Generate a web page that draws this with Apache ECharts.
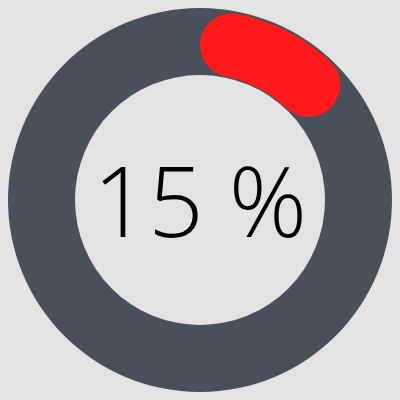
<!DOCTYPE html>
<html><head><meta charset="utf-8">
<script src="https://cdn.jsdelivr.net/npm/echarts@6/dist/echarts.min.js"></script>
<style>html,body{margin:0;padding:0;background:#e3e3e3}#c{width:400px;height:400px}</style>
</head><body><div id="c"></div>
<script>
var values = [15];
var labelSuffix = ' %';
var chart = echarts.init(document.getElementById('c'));
var hidden = {axisTick:{show:false},splitLine:{show:false},axisLabel:{show:false},pointer:{show:false},title:{show:false}};
chart.setOption({
  backgroundColor:'#e3e3e3',
  animation:false,
  series:[
    Object.assign({
      type:'gauge', center:['50%','50%'], radius:192, startAngle:90, endAngle:-270, min:0, max:100,
      axisLine:{lineStyle:{width:67,color:[[1,'#4a5059']]}},
      progress:{show:false}, detail:{show:false},
      data:[{value:values[0]}]
    }, hidden),
    Object.assign({
      type:'gauge', center:['50%','50%'], radius:190, startAngle:78.3, endAngle:-281.7, min:0, max:171,
      axisLine:{show:false},
      progress:{show:true,width:64,roundCap:true,itemStyle:{color:'#ff1a1a'}},
      detail:{show:true,offsetCenter:[0,9],formatter:function(v){return v+labelSuffix;},fontFamily:'Open Sans',fontWeight:300,fontSize:97,color:'#000'},
      data:[{value:values[0]}]
    }, hidden)
  ]
});
</script></body></html>
